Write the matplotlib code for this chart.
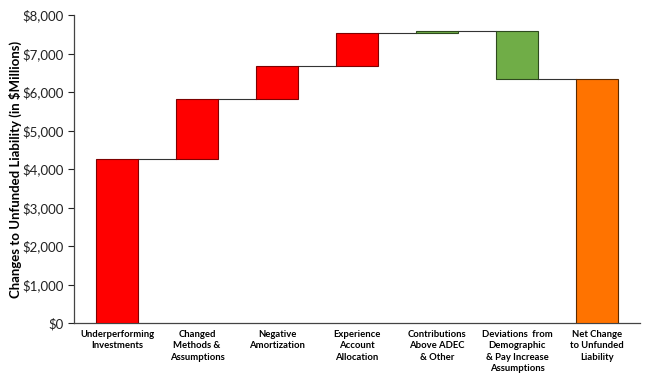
import numpy as np
import matplotlib.pyplot as plt
from matplotlib.ticker import FuncFormatter

categories = [
    "Underperforming\nInvestments",
    "Changed\nMethods &\nAssumptions",
    "Negative\nAmortization",
    "Experience\nAccount\nAllocation",
    "Contributions\nAbove ADEC\n& Other",
    "Deviations  from\nDemographic\n& Pay Increase\nAssumptions",
    "Net Change\nto Unfunded\nLiability",
]
changes = [4250, 1565, 860, 865, 50, -1245]
fills = ["#FF0000", "#FF0000", "#FF0000", "#FF0000", "#70AD47", "#70AD47", "#FF7300"]
edges = ["#7F0000", "#7F0000", "#7F0000", "#7F0000", "#2E4A1E", "#2E4A1E", "#5A2A00"]

ends = np.cumsum(changes)
starts = ends - np.array(changes)
total = ends[-1]

bottoms = list(np.minimum(starts, ends)) + [0]
heights = list(np.abs(changes)) + [total]

plt.rcParams['font.family'] = ['Lato', 'DejaVu Sans']
fig = plt.figure(figsize=(6.48, 3.85), dpi=100)
ax = fig.add_axes([0.114, 0.161, 0.874, 0.8])

x = np.arange(len(categories))
w = 0.52
ax.bar(x, heights, bottom=bottoms, width=w, color=fills, edgecolor=edges, linewidth=0.8, zorder=3)

# connector lines between bars
for i, lvl in enumerate(ends):
    ax.plot([x[i] + w / 2, x[i + 1] - w / 2], [lvl, lvl], color="#333333", linewidth=0.8, zorder=2)

ax.set_xlim(-0.54, 6.54)
ax.set_ylim(0, 8000)
ax.set_yticks(range(0, 8001, 1000))
ax.yaxis.set_major_formatter(FuncFormatter(lambda v, p: f"${v:,.0f}"))
ax.tick_params(axis="y", labelsize=9.5, direction="out", length=4, colors="#222222", pad=3)
ax.tick_params(axis="x", length=0, pad=5)
ax.set_xticks(x)
ax.set_xticklabels(categories, fontsize=6.8, fontweight="bold", linespacing=1.35)
ax.set_ylabel("Changes to Unfunded Liability (in $Millions)", fontsize=9.5, fontweight="bold")
ax.yaxis.set_label_coords(-0.092, 0.5)

for s in ["top", "right"]:
    ax.spines[s].set_visible(False)
for s in ["left", "bottom"]:
    ax.spines[s].set_color("#444444")
    ax.spines[s].set_linewidth(0.9)

fig.savefig("out.png", dpi=100)
